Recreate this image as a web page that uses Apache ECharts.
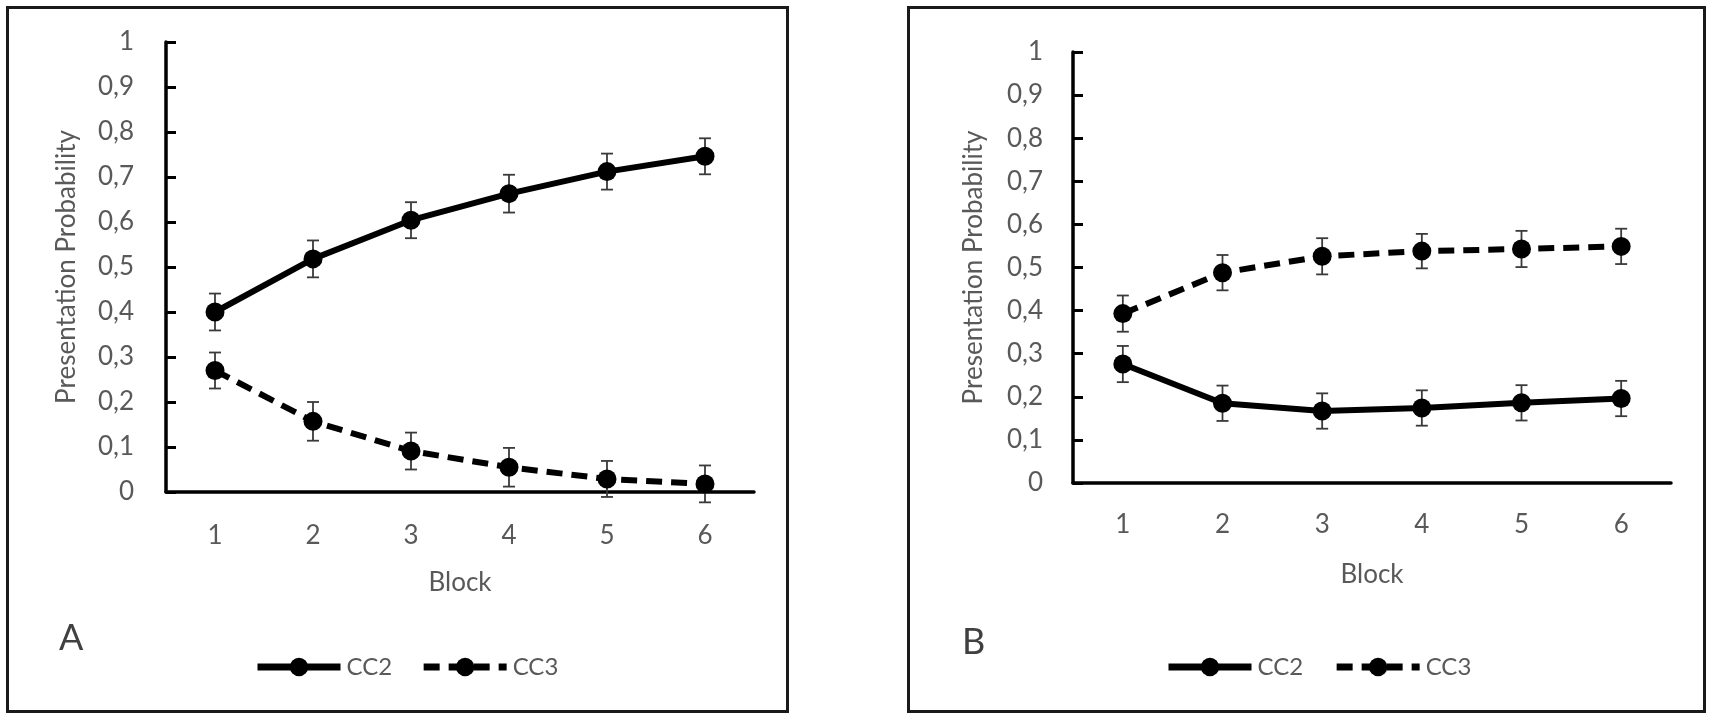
<!DOCTYPE html>
<html><head><meta charset="utf-8">
<script src="https://cdn.jsdelivr.net/npm/echarts@6/dist/echarts.min.js"></script>
<style>
body{margin:0;background:#fff;width:1713px;height:719px;position:relative;overflow:hidden}
.p{position:absolute;border:3px solid #1a1a1a;box-sizing:border-box;background:#fff}
</style></head><body>
<div id="a" class="p" style="left:6px;top:6px;width:783px;height:707px"></div>
<div id="b" class="p" style="left:907px;top:6px;width:799px;height:707px"></div>
<script>
const blocks = ['1','2','3','4','5','6'];
const yTickLabels = ['0','0,1','0,2','0,3','0,4','0,5','0,6','0,7','0,8','0,9','1'];

const a_cc2 = [0.40, 0.518, 0.604, 0.663, 0.712, 0.746];
const a_cc2_err = [0.041, 0.041, 0.04, 0.042, 0.04, 0.04];
const a_cc3 = [0.27, 0.157, 0.091, 0.055, 0.029, 0.018];
const a_cc3_err = [0.04, 0.043, 0.041, 0.043, 0.04, 0.041];

const b_cc2 = [0.276, 0.185, 0.167, 0.174, 0.186, 0.196];
const b_cc2_err = [0.042, 0.041, 0.041, 0.041, 0.041, 0.041];
const b_cc3 = [0.393, 0.488, 0.526, 0.538, 0.543, 0.549];
const b_cc3_err = [0.042, 0.041, 0.042, 0.04, 0.042, 0.041];

const FONT = 'Lato';
const GREY = '#595959';

function errRender(params, api){
  const x = api.value(0);
  const lo = api.coord([x, api.value(1)]);
  const hi = api.coord([x, api.value(2)]);
  const w = 6;
  const st = {stroke:'#3a3a3a', lineWidth:1.8};
  return {type:'group', children:[
    {type:'line', shape:{x1:lo[0],y1:lo[1],x2:hi[0],y2:hi[1]}, style:st},
    {type:'line', shape:{x1:lo[0]-w,y1:lo[1],x2:lo[0]+w,y2:lo[1]}, style:st},
    {type:'line', shape:{x1:hi[0]-w,y1:hi[1],x2:hi[0]+w,y2:hi[1]}, style:st}
  ]};
}
function errData(v, e){ return v.map((val,i)=>[i, val-e[i], val+e[i]]); }

function makeOption(cfg){
  const lineSeries = (name, data, dashed) => ({
    name, type:'line', data, symbol:'circle', symbolSize:19, z:3,
    itemStyle:{color:'#000'},
    lineStyle:{color:'#000', width:6, type: dashed ? [16,9] : 'solid'}
  });
  const errSeries = (name, v, e) => ({
    name, type:'custom', renderItem: errRender, data: errData(v,e),
    encode:{x:0, y:[1,2]}, z:2, silent:true
  });
  return {
    animation:false,
    textStyle:{fontFamily:FONT},
    title:{text:cfg.letter, left:cfg.letterLeft, top:cfg.letterTop, padding:0,
      textStyle:{fontFamily:FONT, fontSize:36, fontWeight:'normal', color:'#404040'}},
    legend:{data:['CC2','CC3'], left:cfg.legLeft, top:cfg.legTop, padding:0,
      itemWidth:83, itemHeight:23, itemGap:cfg.legGap,
      lineStyle:{width:7},
      textStyle:{fontFamily:FONT, fontSize:24, color:GREY, padding:[0,0,0,1]}},
    grid:cfg.grid,
    xAxis:{type:'category', data:blocks, boundaryGap:true,
      name:'Block', nameLocation:'middle', nameGap:cfg.xNameGap,
      nameTextStyle:{fontFamily:FONT, fontSize:26, color:GREY},
      axisLine:{lineStyle:{color:'#000', width:3.5}},
      axisTick:{inside:true, length:10, lineStyle:{color:'#000', width:3}},
      axisLabel:{margin:cfg.xLabelMargin, fontFamily:FONT, fontSize:26, color:GREY}
    },
    yAxis:{type:'value', min:0, max:1, interval:0.1,
      name:'Presentation Probability', nameLocation:'middle', nameGap:86, nameRotate:90,
      nameTextStyle:{fontFamily:FONT, fontSize:26, color:GREY},
      splitLine:{show:false},
      axisLine:{show:true, lineStyle:{color:'#000', width:3.5}},
      axisTick:{show:true, inside:true, length:10, lineStyle:{color:'#000', width:3}},
      axisLabel:{margin:cfg.yLabelMargin, fontFamily:FONT, fontSize:26, color:GREY,
        formatter: v => yTickLabels[Math.round(v*10)]}
    },
    series:[
      errSeries('e2', cfg.cc2, cfg.cc2e),
      errSeries('e3', cfg.cc3, cfg.cc3e),
      lineSeries('CC2', cfg.cc2, false),
      lineSeries('CC3', cfg.cc3, true)
    ]
  };
}

const chartA = echarts.init(document.getElementById('a'));
chartA.setOption(makeOption({
  letter:'A', letterLeft:50, letterTop:611, legLeft:245, legTop:646, legGap:28,
  grid:{left:157, right:32, top:33, bottom:218},
  xNameGap:78, xLabelMargin:31, yLabelMargin:32,
  cc2:a_cc2, cc2e:a_cc2_err, cc3:a_cc3, cc3e:a_cc3_err
}));
const chartB = echarts.init(document.getElementById('b'));
chartB.setOption(makeOption({
  letter:'B', letterLeft:52, letterTop:615, legLeft:255, legTop:646, legGap:30,
  grid:{left:163, right:32, top:43, bottom:227},
  xNameGap:79, xLabelMargin:29, yLabelMargin:30,
  cc2:b_cc2, cc2e:b_cc2_err, cc3:b_cc3, cc3e:b_cc3_err
}));
</script></body></html>
